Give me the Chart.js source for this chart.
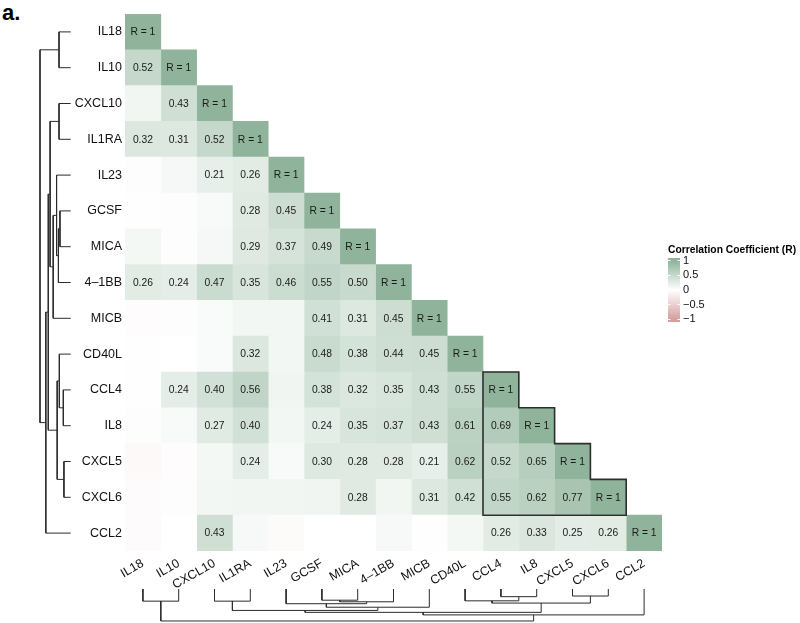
<!DOCTYPE html>
<html lang="en">
<head>
<meta charset="UTF-8" />
<title>Cytokine correlation heatmap</title>
<script src="https://cdn.jsdelivr.net/npm/chart.js@4.4.0/dist/chart.umd.min.js"></script>
<style>
*{box-sizing:border-box}
body{margin:0;background:#fff;width:800px;height:623px;position:relative;overflow:hidden;font-family:"Liberation Sans",Arial,sans-serif}
canvas{position:absolute}
#panel{position:absolute;left:2px;top:2px;font:bold 22px/22px "Liberation Sans",Arial,sans-serif;color:#000}
</style>
</head>
<body>
<div id="panel">a.</div>
<canvas id="heat" width="800" height="623" style="left:0;top:0"></canvas>
<canvas id="dendL" width="40" height="537" style="left:36px;top:14px"></canvas>
<canvas id="dendB" width="537" height="39" style="left:125px;top:584px"></canvas>
<canvas id="bar" width="136" height="92" style="left:664px;top:240px"></canvas>

<script>
/* ---------- data ---------- */
const NAMES = ['IL18','IL10','CXCL10','IL1RA','IL23','GCSF','MICA','4–1BB','MICB','CD40L','CCL4','IL8','CXCL5','CXCL6','CCL2'];

// lower triangle, one row per variable (column order = NAMES)
const R_IL18  = [1];
const R_IL10  = [0.52, 1];
const R_CXCL10= [0.12, 0.43, 1];
const R_IL1RA = [0.32, 0.31, 0.52, 1];
const R_IL23  = [-0.02, 0.09, 0.21, 0.26, 1];
const R_GCSF  = [0.01, -0.02, 0.07, 0.28, 0.45, 1];
const R_MICA  = [0.10, -0.02, 0.09, 0.29, 0.37, 0.49, 1];
const R_41BB  = [0.26, 0.24, 0.47, 0.35, 0.46, 0.55, 0.50, 1];
const R_MICB  = [-0.03, 0.03, 0.05, 0.11, 0.11, 0.41, 0.31, 0.45, 1];
const R_CD40L = [0.02, 0.00, 0.05, 0.32, 0.11, 0.48, 0.38, 0.44, 0.45, 1];
const R_CCL4  = [0.01, 0.24, 0.40, 0.56, 0.13, 0.38, 0.32, 0.35, 0.43, 0.55, 1];
const R_IL8   = [0.03, 0.07, 0.27, 0.40, 0.11, 0.24, 0.35, 0.37, 0.43, 0.61, 0.69, 1];
const R_CXCL5 = [-0.06, -0.03, 0.10, 0.24, 0.07, 0.30, 0.28, 0.28, 0.21, 0.62, 0.52, 0.65, 1];
const R_CXCL6 = [-0.04, 0.03, 0.11, 0.12, 0.12, 0.13, 0.28, 0.12, 0.31, 0.42, 0.55, 0.62, 0.77, 1];
const R_CCL2  = [-0.04, 0.00, 0.43, 0.08, -0.05, 0.00, 0.00, 0.08, 0.02, 0.10, 0.26, 0.33, 0.25, 0.26, 1];
const CORR = [R_IL18,R_IL10,R_CXCL10,R_IL1RA,R_IL23,R_GCSF,R_MICA,R_41BB,R_MICB,R_CD40L,R_CCL4,R_IL8,R_CXCL5,R_CXCL6,R_CCL2];
const SHOW_MIN = 0.2;              // only significant cells get a number
const BLOCK = ['CCL4','CXCL6'];    // outlined cluster

// hierarchical clustering: numbers point to an earlier merge (1-based)
const MERGE = [
  ['CXCL5','CXCL6'], ['CCL4','IL8'], ['GCSF','MICA'], ['CD40L',2],
  ['IL18','IL10'], ['CXCL10','IL1RA'], [3,'4–1BB'], [4,1],
  ['IL23',7], [9,'MICB'], [6,10], [11,8], [12,'CCL2'], [5,13]
];
const MERGE_H = [0.22,0.24,0.35,0.37,0.38,0.38,0.40,0.44,0.46,0.57,0.67,0.73,0.81,1.0];

const LEGEND_TICKS = [1, 0.5, 0, -0.5, -1];

/* ---------- helpers ---------- */
const FAMILY = '"Liberation Sans", Arial, Helvetica, sans-serif';
Chart.defaults.font.family = FAMILY;
const GREEN = [143,180,155], PINK = [214,160,160];
function colFill(v){
  const c = v >= 0 ? GREEN : PINK, t = Math.min(1, Math.abs(v));
  return 'rgb(' + c.map(k => Math.round(255 + (k - 255) * t)).join(',') + ')';
}
const minus = v => v < 0 ? '\u2212' + Math.abs(v) : String(v);

/* ---------- heatmap ---------- */
const heatSets = NAMES.map((_, j) => ({
  data: CORR.map((row, i) => j <= i ? [j - 0.5, j + 0.5] : null),
  backgroundColor: ctx => colFill(CORR[ctx.dataIndex][j] ?? 0),
  borderWidth: 0, barPercentage: 1, categoryPercentage: 1, grouped: false
}));

const cellText = {
  id: 'cellText',
  afterDatasetsDraw(chart){
    const c = chart.ctx, xs = chart.scales.x, ys = chart.scales.y;
    c.save();
    c.font = '10.3px ' + FAMILY;
    c.fillStyle = '#1a1a1a'; c.textAlign = 'center'; c.textBaseline = 'middle';
    chart.data.datasets.forEach((ds, j) => {
      chart.getDatasetMeta(j).data.forEach((el, i) => {
        if (j > i) return;
        const v = CORR[i][j];
        const t = i === j ? 'R = 1' : (v >= SHOW_MIN ? v.toFixed(2) : '');
        if (!t) return;
        const p = el.getCenterPoint();
        c.fillText(t, p.x, p.y + 0.5);
      });
    });
    // staircase outline around the cluster block
    const a = NAMES.indexOf(BLOCK[0]), b = NAMES.indexOf(BLOCK[1]);
    const half = (ys.getPixelForValue(1) - ys.getPixelForValue(0)) / 2;
    const top = i => ys.getPixelForValue(i) - half, bot = i => ys.getPixelForValue(i) + half;
    c.beginPath();
    c.moveTo(xs.getPixelForValue(a - 0.5), top(a));
    for (let k = a; k <= b; k++){
      c.lineTo(xs.getPixelForValue(k + 0.5), top(k));
      c.lineTo(xs.getPixelForValue(k + 0.5), bot(k));
    }
    c.lineTo(xs.getPixelForValue(a - 0.5), bot(b));
    c.closePath();
    c.lineWidth = 1.6; c.strokeStyle = '#2e2e2e'; c.stroke();
    c.restore();
  }
};

new Chart(document.getElementById('heat'), {
  type: 'bar',
  data: { labels: NAMES, datasets: heatSets },
  options: {
    responsive: false, animation: false, indexAxis: 'y',
    layout: { padding: { left: 0, right: 138, top: 14, bottom: 0 } },
    plugins: { legend: { display: false }, tooltip: { enabled: false } },
    scales: {
      x: {
        type: 'linear', min: -0.5, max: 14.5, bounds: 'data',
        grid: { display: false, drawTicks: false }, border: { display: false },
        afterBuildTicks: s => { s.ticks = NAMES.map((_, i) => ({ value: i })); },
        afterFit: s => { s.height = 72; s.paddingLeft = 0; s.paddingRight = 0; },
        ticks: { autoSkip: false, minRotation: 30, maxRotation: 30, padding: 5,
                 color: '#111', font: { size: 12.5 }, callback: v => NAMES[v] }
      },
      y: {
        grid: { display: false, drawTicks: false }, border: { display: false },
        afterFit: s => { s.width = 125; s.paddingTop = 0; s.paddingBottom = 0; },
        ticks: { padding: 3, color: '#111', font: { size: 12.5 } }
      }
    }
  },
  plugins: [cellText]
});

/* ---------- dendrograms ---------- */
function dendroSets(swap){
  const pos = [], hgt = [];
  const at = c => typeof c === 'number' ? [pos[c - 1], hgt[c - 1]] : [NAMES.indexOf(c), 0];
  return MERGE.map((pair, k) => {
    const [p1, h1] = at(pair[0]), [p2, h2] = at(pair[1]), H = MERGE_H[k];
    pos.push((p1 + p2) / 2); hgt.push(H);
    const pts = [[p1, h1], [p1, H], [p2, H], [p2, h2]]
      .map(([p, h]) => swap ? { x: h, y: p } : { x: p, y: h });
    return { data: pts, showLine: true, borderColor: '#2b2b2b', borderWidth: 1,
             pointRadius: 0, tension: 0, fill: false };
  });
}
const dendOpts = (xs, ys) => ({
  responsive: false, animation: false, layout: { padding: 0 },
  plugins: { legend: { display: false }, tooltip: { enabled: false } },
  scales: { x: Object.assign({ display: false }, xs), y: Object.assign({ display: false }, ys) }
});

new Chart(document.getElementById('dendL'), {
  type: 'scatter', data: { datasets: dendroSets(true) },
  options: dendOpts({ reverse: true, min: -0.173, max: 1.130 }, { reverse: true, min: -0.5, max: 14.5 })
});
new Chart(document.getElementById('dendB'), {
  type: 'scatter', data: { datasets: dendroSets(false) },
  options: dendOpts({ min: -0.5, max: 14.5 }, { reverse: true, min: -0.156, max: 1.063 })
});

/* ---------- colour bar ---------- */
new Chart(document.getElementById('bar'), {
  type: 'bar',
  data: { labels: [''], datasets: [{
    data: [[-1.1, 1.1]], barPercentage: 1, categoryPercentage: 1, borderWidth: 0,
    backgroundColor: ctx => {
      const ch = ctx.chart; if (!ch.chartArea) return null;
      const y = ch.scales.y;
      const g = ch.ctx.createLinearGradient(0, y.getPixelForValue(-1), 0, y.getPixelForValue(1));
      g.addColorStop(0, colFill(-1)); g.addColorStop(0.5, colFill(0)); g.addColorStop(1, colFill(1));
      return g;
    }
  }]},
  options: {
    responsive: false, animation: false,
    layout: { padding: { left: 4, right: 0, top: 0, bottom: 10 } },
    plugins: {
      legend: { display: false }, tooltip: { enabled: false },
      title: { display: true, text: 'Correlation Coefficient (R)', align: 'start', color: '#000',
               font: { size: 10.3, weight: 'bold' }, padding: { top: 4, bottom: 1.6 } }
    },
    scales: {
      x: { display: false },
      y: {
        position: 'right', min: -1.1, max: 1.1, bounds: 'data',
        grid: { color: '#fff', drawTicks: false, z: 1 },
        border: { display: false, dash: [2.5, 7] },
        afterBuildTicks: s => { s.ticks = LEGEND_TICKS.map(v => ({ value: v })); },
        afterFit: s => { s.width = 120; s.paddingTop = 0; s.paddingBottom = 0; },
        ticks: { autoSkip: false, padding: 3, color: '#111', font: { size: 11 }, callback: minus }
      }
    }
  }
});
</script>
</body>
</html>
